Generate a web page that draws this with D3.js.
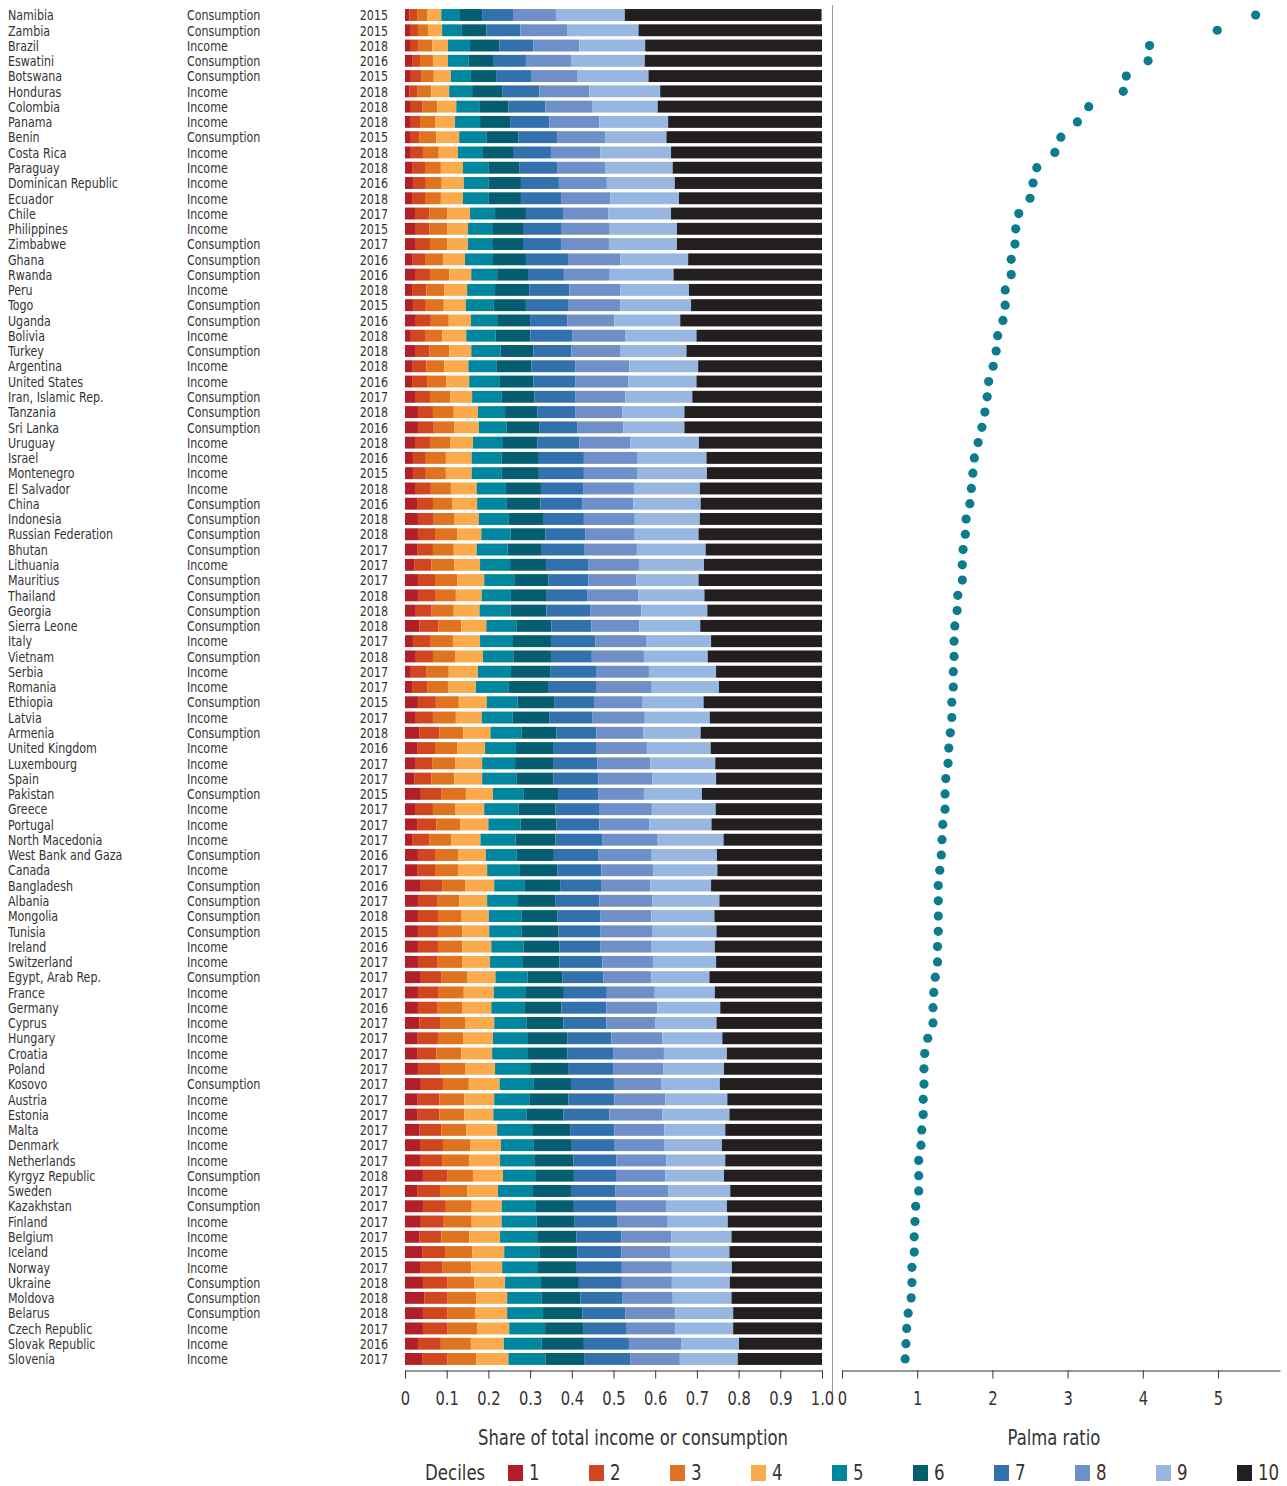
<!DOCTYPE html>
<html>
<head>
<meta charset="utf-8">
<script src="https://cdn.jsdelivr.net/npm/d3@7"></script>
<style>
  html, body { margin: 0; padding: 0; background: #fff; }
  svg { display: block; }
  text { font-family: "Liberation Sans Narrow", "DejaVu Sans Condensed", "Roboto Condensed", sans-serif; font-stretch: condensed; fill: #333; }
</style>
</head>
<body>
<svg id="chart" width="1287" height="1486"></svg>
<script>
// Economies, sorted by Palma ratio (highest first)
const countries = [
  "Namibia","Zambia","Brazil","Eswatini","Botswana","Honduras","Colombia","Panama","Benin","Costa Rica",
  "Paraguay","Dominican Republic","Ecuador","Chile","Philippines","Zimbabwe","Ghana","Rwanda","Peru","Togo",
  "Uganda","Bolivia","Turkey","Argentina","United States","Iran, Islamic Rep.","Tanzania","Sri Lanka","Uruguay","Israel",
  "Montenegro","El Salvador","China","Indonesia","Russian Federation","Bhutan","Lithuania","Mauritius","Thailand","Georgia",
  "Sierra Leone","Italy","Vietnam","Serbia","Romania","Ethiopia","Latvia","Armenia","United Kingdom","Luxembourg",
  "Spain","Pakistan","Greece","Portugal","North Macedonia","West Bank and Gaza","Canada","Bangladesh","Albania","Mongolia",
  "Tunisia","Ireland","Switzerland","Egypt, Arab Rep.","France","Germany","Cyprus","Hungary","Croatia","Poland",
  "Kosovo","Austria","Estonia","Malta","Denmark","Netherlands","Kyrgyz Republic","Sweden","Kazakhstan","Finland",
  "Belgium","Iceland","Norway","Ukraine","Moldova","Belarus","Czech Republic","Slovak Republic","Slovenia"
];

// Welfare measure of each survey
const welfareTypes = [
  "Consumption","Consumption","Income","Consumption","Consumption","Income","Income","Income","Consumption","Income",
  "Income","Income","Income","Income","Income","Consumption","Consumption","Consumption","Income","Consumption",
  "Consumption","Income","Consumption","Income","Income","Consumption","Consumption","Consumption","Income","Income",
  "Income","Income","Consumption","Consumption","Consumption","Consumption","Income","Consumption","Consumption","Consumption",
  "Consumption","Income","Consumption","Income","Income","Consumption","Income","Consumption","Income","Income",
  "Income","Consumption","Income","Income","Income","Consumption","Income","Consumption","Consumption","Consumption",
  "Consumption","Income","Income","Consumption","Income","Income","Income","Income","Income","Income",
  "Consumption","Income","Income","Income","Income","Income","Consumption","Income","Consumption","Income",
  "Income","Income","Income","Consumption","Consumption","Consumption","Income","Income","Income"
];

// Survey year
const surveyYears = [
  2015,2015,2018,2016,2015,2018,2018,2018,2015,2018,
  2018,2016,2018,2017,2015,2017,2016,2016,2018,2015,
  2016,2018,2018,2018,2016,2017,2018,2016,2018,2016,
  2015,2018,2016,2018,2018,2017,2017,2017,2018,2018,
  2018,2017,2018,2017,2017,2015,2017,2018,2016,2017,
  2017,2015,2017,2017,2017,2016,2017,2016,2017,2018,
  2015,2016,2017,2017,2017,2016,2017,2017,2017,2017,
  2017,2017,2017,2017,2017,2017,2018,2017,2017,2017,
  2017,2015,2017,2018,2018,2018,2017,2016,2017
];

// Share of total income or consumption held by deciles 1..10, in percent
const decileShares = [
  [1.0,1.9,2.4,3.4,4.3,5.5,7.4,10.3,16.5,47.2],
  [1.2,1.9,2.4,3.4,4.6,6.0,8.2,11.3,17.0,44.0],
  [1.2,1.9,3.4,3.8,5.3,7.0,8.2,11.0,15.8,42.4],
  [1.7,1.9,3.1,3.6,5.0,6.0,7.7,10.8,17.7,42.5],
  [1.4,2.6,2.9,4.1,4.8,6.2,8.4,11.0,17.0,41.6],
  [1.0,1.9,3.4,4.3,5.5,7.2,8.9,12.0,17.0,38.8],
  [1.2,2.9,3.6,4.6,5.5,7.0,8.9,11.3,15.6,39.4],
  [1.4,2.2,3.6,4.8,6.0,7.2,9.4,12.0,16.5,36.9],
  [1.2,2.2,4.1,5.5,6.5,7.7,9.4,11.5,14.6,37.3],
  [1.4,2.9,3.8,4.6,6.0,7.2,9.1,11.8,17.0,36.2],
  [1.7,3.1,3.8,5.3,6.2,7.4,9.1,11.5,16.1,35.8],
  [1.9,3.1,3.8,5.3,6.0,7.7,9.1,11.5,16.3,35.3],
  [1.7,3.1,3.8,5.3,6.2,7.7,9.6,11.8,16.5,34.3],
  [2.4,3.4,4.3,5.5,6.0,7.4,8.9,10.8,15.1,36.2],
  [2.4,3.4,4.3,5.0,6.0,7.4,9.1,11.5,16.1,34.8],
  [2.6,3.4,4.1,5.0,5.8,7.4,9.1,11.5,16.3,34.8],
  [1.7,3.1,4.3,5.3,6.7,7.9,10.1,12.5,16.3,32.1],
  [2.6,3.4,4.6,5.3,6.2,7.4,8.6,11.0,15.3,35.6],
  [1.7,3.4,4.3,5.5,6.7,8.2,9.6,12.2,16.5,31.9],
  [1.9,3.1,4.3,5.3,6.7,7.7,10.1,12.5,17.0,31.4],
  [2.6,3.6,4.3,5.3,6.5,7.7,8.9,11.3,15.8,34.0],
  [1.4,3.4,4.1,5.8,7.0,8.4,10.1,12.7,17.0,30.1],
  [2.4,3.4,4.8,5.3,7.0,7.9,9.1,11.8,15.8,32.5],
  [1.7,3.4,4.3,5.8,6.7,8.4,10.6,12.9,16.5,29.7],
  [1.7,3.6,4.6,5.5,7.2,8.2,10.1,12.7,16.3,30.1],
  [2.4,3.6,4.8,5.3,7.0,7.9,9.8,12.0,16.1,31.1],
  [3.1,3.6,5.0,5.8,6.5,7.7,9.1,11.3,14.9,33.0],
  [3.1,3.8,5.0,5.8,6.7,7.9,9.1,11.0,14.6,33.0],
  [2.4,3.6,4.8,5.5,7.0,8.4,10.1,12.2,16.5,29.5],
  [1.9,3.1,4.8,6.2,7.2,8.9,10.8,12.9,16.5,27.7],
  [1.9,3.1,4.8,6.2,7.2,8.9,10.8,12.9,16.6,27.6],
  [2.4,3.8,4.8,6.2,7.0,8.4,10.1,12.2,15.8,29.3],
  [2.9,3.8,4.6,6.0,7.0,8.2,10.1,12.2,16.1,29.1],
  [3.1,3.8,5.0,5.8,7.2,8.2,9.8,12.2,15.6,29.3],
  [3.1,4.1,5.3,5.8,7.0,8.4,9.6,11.8,15.3,29.6],
  [2.9,3.8,5.0,5.5,7.4,8.2,10.3,12.5,16.5,27.9],
  [2.2,4.1,5.5,6.2,7.2,8.6,10.1,12.2,15.6,28.3],
  [3.1,4.1,5.3,6.5,7.2,8.2,9.6,11.5,14.9,29.6],
  [3.1,4.1,5.0,6.2,7.0,8.6,9.8,12.2,15.8,28.2],
  [2.6,3.8,5.3,6.2,7.4,8.6,10.6,12.2,15.8,27.5],
  [3.4,4.6,5.5,6.0,7.2,8.4,9.6,11.5,14.6,29.2],
  [1.9,4.1,5.5,6.5,7.9,9.1,10.6,12.2,15.6,26.6],
  [2.6,4.1,5.3,6.7,7.4,8.9,9.8,12.5,15.3,27.4],
  [1.4,3.8,5.3,7.0,7.9,9.4,11.0,12.7,16.1,25.4],
  [1.7,3.6,5.0,6.7,7.9,9.4,11.5,13.2,16.3,24.7],
  [3.1,4.3,5.5,6.7,7.4,8.9,9.6,11.5,14.6,28.4],
  [2.4,4.3,5.5,6.2,7.4,8.9,10.3,12.5,15.6,26.9],
  [3.4,4.8,5.8,6.5,7.4,8.4,9.6,11.3,13.7,29.1],
  [2.9,4.3,5.3,6.7,7.4,8.9,10.3,12.2,15.3,26.7],
  [2.4,4.1,5.5,6.5,7.9,9.1,10.6,12.7,15.6,25.6],
  [2.2,4.1,5.5,6.7,8.2,8.9,10.8,12.9,15.3,25.4],
  [3.8,5.0,5.8,6.5,7.4,8.2,9.6,11.0,13.9,28.8],
  [2.4,4.3,5.3,7.0,8.2,8.9,10.6,12.5,15.3,25.5],
  [2.9,4.6,5.8,6.7,7.7,8.6,10.3,12.0,14.9,26.5],
  [1.7,4.1,5.3,7.0,8.4,9.6,11.3,13.2,15.8,23.6],
  [3.1,4.1,5.5,6.7,7.4,8.9,10.6,12.7,15.8,25.2],
  [2.9,4.3,5.5,7.0,7.7,9.1,10.6,12.5,15.3,25.1],
  [3.6,5.3,5.5,7.0,7.2,8.6,9.8,11.8,14.6,26.6],
  [3.1,4.6,5.3,6.7,7.4,8.9,10.6,12.7,16.1,24.6],
  [3.1,5.0,5.5,6.5,7.9,8.6,10.3,12.2,15.1,25.8],
  [3.1,4.8,5.8,6.5,7.7,8.9,10.1,12.5,15.3,25.3],
  [3.1,4.8,5.8,7.0,7.7,8.6,9.8,12.2,15.3,25.7],
  [3.1,4.6,6.0,6.7,7.7,8.9,10.3,12.2,15.1,25.4],
  [3.8,5.0,6.2,6.7,7.7,8.4,9.8,11.5,13.9,27.0],
  [3.1,5.0,6.0,7.2,7.7,9.1,10.3,11.5,14.4,25.7],
  [3.1,4.6,6.0,7.0,7.9,8.9,10.8,12.2,15.1,24.4],
  [3.4,5.0,6.0,7.0,7.7,8.9,10.3,11.8,14.6,25.3],
  [2.9,5.0,6.0,7.2,8.4,9.4,10.6,12.2,14.4,23.9],
  [2.9,4.6,6.0,7.4,8.4,9.6,11.0,12.2,15.1,22.8],
  [3.1,5.3,6.0,7.2,8.4,9.1,10.8,12.0,14.6,23.5],
  [3.8,5.3,6.2,7.4,8.2,8.9,10.3,11.3,14.1,24.5],
  [2.9,5.3,6.0,7.2,8.4,9.4,11.0,12.2,14.9,22.7],
  [2.9,5.3,6.0,7.0,7.9,8.9,11.0,12.7,16.1,22.2],
  [3.4,5.3,6.0,7.4,8.4,9.1,10.6,12.0,14.6,23.2],
  [3.6,5.5,6.5,7.4,7.9,9.1,10.3,11.8,13.9,24.0],
  [3.6,5.3,6.5,7.4,8.2,9.4,10.3,12.0,14.1,23.2],
  [4.3,5.8,6.2,7.2,7.9,9.1,10.1,11.8,14.1,23.5],
  [2.9,5.5,6.5,7.4,8.4,9.1,10.6,12.7,14.9,22.0],
  [4.3,5.5,6.2,7.2,8.2,9.1,10.1,12.0,14.6,22.8],
  [3.8,5.5,6.7,7.2,8.4,9.1,10.3,12.0,14.4,22.6],
  [3.4,5.3,6.7,7.4,8.9,9.4,10.8,12.0,14.4,21.7],
  [4.1,5.5,6.5,7.7,8.4,9.1,10.6,11.8,14.1,22.2],
  [3.6,5.3,7.0,7.4,8.6,9.1,11.0,12.0,14.4,21.6],
  [4.3,5.8,6.5,7.4,8.6,9.1,10.3,12.0,13.9,22.1],
  [4.6,5.5,7.0,7.4,8.2,9.4,10.1,12.0,14.1,21.7],
  [4.3,5.8,6.7,7.7,8.6,9.4,10.3,12.0,13.9,21.3],
  [4.3,5.8,7.2,7.7,8.6,9.1,10.3,11.8,13.9,21.3],
  [3.1,5.5,7.2,7.9,9.1,10.1,10.8,12.5,13.9,19.9],
  [4.1,6.0,7.0,7.7,8.9,9.4,11.0,11.8,13.9,20.2]
];

// Palma ratio: top 10 percent share over bottom 40 percent share
const palmaRatios = [
  5.50,4.99,4.09,4.07,3.78,3.74,3.28,3.13,2.91,2.83,
  2.59,2.54,2.50,2.35,2.31,2.30,2.25,2.25,2.17,2.17,
  2.14,2.07,2.05,2.01,1.95,1.93,1.90,1.86,1.81,1.76,
  1.74,1.72,1.70,1.65,1.64,1.61,1.60,1.60,1.54,1.53,
  1.50,1.49,1.49,1.48,1.48,1.46,1.46,1.44,1.42,1.41,
  1.38,1.37,1.37,1.34,1.33,1.32,1.30,1.28,1.28,1.28,
  1.28,1.27,1.27,1.24,1.22,1.21,1.21,1.14,1.10,1.09,
  1.09,1.08,1.08,1.06,1.05,1.02,1.02,1.02,0.98,0.97,
  0.96,0.96,0.93,0.93,0.92,0.88,0.86,0.85,0.84
];

const decileLabels = ["1","2","3","4","5","6","7","8","9","10"];
const decileColors = ["#b11f28","#d1461f","#e0731f","#fbaa4c","#00869f","#055e6f","#3370ae","#6f8fc9","#97b6e0","#231f20"];
const shareTicks = [0,10,20,30,40,50,60,70,80,90,100];
const shareTickLabels = ["0","0.1","0.2","0.3","0.4","0.5","0.6","0.7","0.8","0.9","1.0"];
const palmaTicks = [0,1,2,3,4,5];

const svg = d3.select("#chart");

// Narrow the lettering horizontally so it reads as a condensed face
const at = (x, y, f) => `translate(${x},${y}) scale(${f},1)`;

// Scales
const y = d3.scaleBand()
  .domain(countries)
  .range([7.36, 1366.6])
  .paddingInner(0.22)
  .paddingOuter(0.11);
const cy = c => y(c) + y.bandwidth() / 2;

const x = d3.scaleLinear().domain([0, 100]).range([405, 822]);
const xPalma = d3.scaleLinear().domain([0, 5.824]).range([842, 1280]);
const color = d3.scaleOrdinal().domain(decileLabels).range(decileColors);

const rows = countries.map((c, i) => ({
  country: c, type: welfareTypes[i], year: surveyYears[i], palma: palmaRatios[i],
  shares: decileShares[i]
}));

// Row labels: economy, welfare measure, survey year
const labels = svg.append("g").attr("font-size", 14.5);
labels.selectAll("text.country").data(rows).join("text")
  .attr("class", "country")
  .attr("transform", d => at(8, cy(d.country), 0.85))
  .attr("dy", "0.36em")
  .text(d => d.country);
labels.selectAll("text.type").data(rows).join("text")
  .attr("class", "type")
  .attr("transform", d => at(187, cy(d.country), 0.85))
  .attr("dy", "0.36em")
  .text(d => d.type);
labels.selectAll("text.year").data(rows).join("text")
  .attr("class", "year")
  .attr("text-anchor", "end")
  .attr("transform", d => at(388, cy(d.country), 0.85))
  .attr("dy", "0.36em")
  .text(d => d.year);

// Stacked decile bars
const stackInput = rows.map(r => {
  const o = { country: r.country };
  decileLabels.forEach((k, j) => { o[k] = r.shares[j]; });
  return o;
});
const series = d3.stack().keys(decileLabels)(stackInput);

svg.append("g").selectAll("g").data(series).join("g")
  .attr("fill", d => color(d.key))
  .selectAll("rect").data(d => d).join("rect")
  .attr("x", d => x(d[0]))
  .attr("width", d => Math.max(0, x(d[1]) - x(d[0])))
  .attr("y", d => y(d.data.country))
  .attr("height", y.bandwidth());

// Divider between the two panels
svg.append("line")
  .attr("x1", 832.5).attr("x2", 832.5)
  .attr("y1", 5).attr("y2", 1405)
  .attr("stroke", "#9a9a9a").attr("stroke-width", 1);

// Palma ratio dots
svg.append("g").selectAll("circle").data(rows).join("circle")
  .attr("cx", d => xPalma(d.palma))
  .attr("cy", d => cy(d.country))
  .attr("r", 4.6)
  .attr("fill", "#0c7b8e");

// Axes
const axisY = 1370.5;
const shareAxis = svg.append("g")
  .attr("transform", `translate(0,${axisY})`)
  .call(d3.axisBottom(x)
    .tickValues(shareTicks)
    .tickFormat((d, i) => shareTickLabels[i])
    .tickSize(8)
    .tickPadding(13));

const palmaAxis = svg.append("g")
  .attr("transform", `translate(0,${axisY})`)
  .call(d3.axisBottom(xPalma)
    .tickValues(palmaTicks)
    .tickFormat(d3.format("d"))
    .tickSize(8)
    .tickSizeOuter(0)
    .tickPadding(13));

[shareAxis, palmaAxis].forEach(a => {
  a.attr("font-family", null).attr("font-size", null);
  a.select(".domain").attr("stroke", "#333");
  a.selectAll(".tick line").attr("stroke", "#333");
  a.selectAll(".tick text")
    .attr("font-size", 19)
    .attr("fill", "#333")
    .attr("transform", "scale(0.86,1)");
});

// Axis titles
svg.append("text")
  .attr("transform", at(633, 1445, 0.83))
  .attr("text-anchor", "middle")
  .attr("font-size", 22)
  .text("Share of total income or consumption");

svg.append("text")
  .attr("transform", at(1054, 1445, 0.83))
  .attr("text-anchor", "middle")
  .attr("font-size", 22)
  .text("Palma ratio");

// Legend
const legend = svg.append("g").attr("transform", "translate(0,1465)");
legend.append("text")
  .attr("transform", at(425, 15, 0.88))
  .attr("font-size", 21)
  .text("Deciles");
const lx = d3.scaleLinear().domain([0, 9]).range([508, 1237]);
const items = legend.selectAll("g.item").data(decileLabels).join("g")
  .attr("class", "item")
  .attr("transform", (d, i) => `translate(${lx(i)},0)`);
items.append("rect")
  .attr("width", 15).attr("height", 16)
  .attr("fill", d => color(d));
items.append("text")
  .attr("transform", at(21, 15, 0.88))
  .attr("font-size", 21)
  .text(d => d);
</script>
</body>
</html>
